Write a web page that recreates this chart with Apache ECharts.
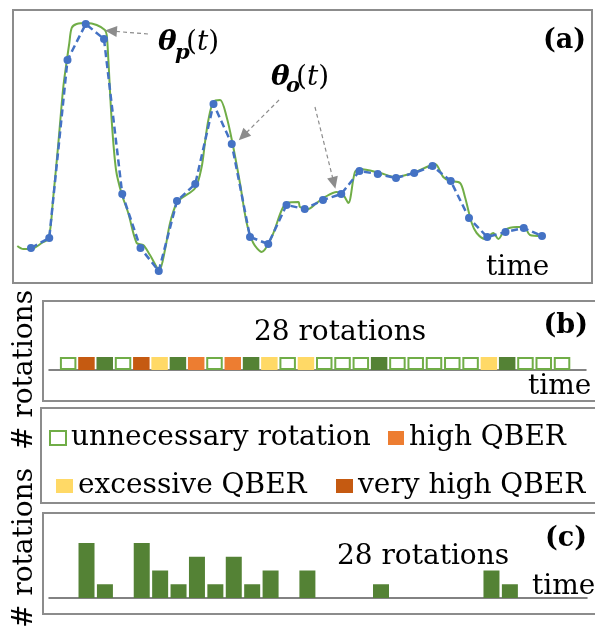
<!DOCTYPE html>
<html><head><meta charset="utf-8">
<script src="https://cdn.jsdelivr.net/npm/echarts@6/dist/echarts.min.js"></script>
<style>html,body{margin:0;padding:0;background:#fff}#c{width:595px;height:628px}</style>
</head><body><div id="c"></div>
<script>
// ---- Panel (a): sampled polarization angle theta_o(t) at rotation times
const sampleValues = [35,45,223,259,244,89,35,12,82,99,179,139,46,39,78,74,83,89,112,109,105,110,117,102,65,46,51,55,47];
// ---- Panel (a): continuous theta_p(t)
const pathT = [-0.75,-0.42,0,0.59,0.97,1.22,1.50,1.77,1.99,2.10,2.23,2.50,3.07,3.60,4.05,4.15,4.24,4.42,4.66,4.97,5.33,5.79,6.15,6.52,7.03,7.34,7.62,7.98,8.26,9.00,9.35,9.53,9.72,9.99,10.36,10.72,11.05,11.45,11.82,12.18,12.64,13.19,13.74,14.04,14.65,14.74,15.19,15.65,16.11,16.75,17.11,17.39,17.75,18.03,19.12,19.95,20.93,21.68,22.14,22.59,22.96,23.51,23.78,24.15,24.42,24.88,25.33,25.61,25.97,26.61,27.03,27.34,27.98];
const pathV = [37,34,34,40,45,86,140,196,226,240,255,259,260,258,253,248,223,163,113,89,70,40,38,28,13,33,60,80,85,95,116,140,163,181,183,166,139,100,60,40,31,46,73,80,81,76,74,80,86,91,88,80,111,114,110,106,110,116,119,106,102,100,86,60,50,44,50,44,53,56,56,48,47];
// ---- Panel (b): kind of each of the 28 rotations
// U unnecessary, H high QBER, E excessive QBER, V very high QBER, N necessary
const rotationKinds = ['U','V','N','U','V','E','N','H','U','H','N','E','U','E','U','U','U','N','U','U','U','U','U','E','N','U','U','U'];
const kindNames = {U:'unnecessary rotation', H:'high QBER', E:'excessive QBER', V:'very high QBER', N:'necessary rotation'};
// ---- Panel (c): rotations per time slot
const fixSlots  = [1,2,4,5,6,7,8,9,10,11,13,17,23,24];
const fixCounts = [4,1,4,2,1,3,1,3,1,2,2,1,2,1];
// ---- annotation arrows (t, value)
const arrowsA = [[[6.41,249],[4.38,252]], [[13.59,183],[11.62,147]], [[15.56,176],[16.60,100]]];

const SERIF = '"DejaVu Serif"';
const kindStyle = {
  U: {color:'#ffffff', borderColor:'#70AD47', borderWidth:2},
  H: {color:'#ED7D31'},
  E: {color:'#FFD966'},
  V: {color:'#C55A11'},
  N: {color:'#548235'}
};

const chart = echarts.init(document.getElementById('c'), null, {renderer:'canvas'});

const bSeries = ['U','H','E','V','N'].map(k => ({
  type:'bar', name: kindNames[k], xAxisIndex:1, yAxisIndex:1,
  barWidth: 16.5, barGap:'-100%',
  itemStyle: kindStyle[k],
  data: rotationKinds.map((kk,i)=> kk===k ? [i+0.5, 1] : null).filter(Boolean),
  silent:true
}));

const gray = '#8c8c8c';
function box(x,y,w,h){return {type:'rect', silent:true, z:10, shape:{x,y,width:w,height:h}, style:{fill:'none', stroke:gray, lineWidth:2}};}
function txt(x,y,text,font,align){return {type:'text', silent:true, z:20, x, y, style:{text, font, fill:'#000', align:align||'left', verticalAlign:'middle'}};}

const legendBase = {orient:'horizontal', padding:0, selectedMode:false, icon:'rect', itemHeight:14,
  textStyle:{fontFamily:SERIF, fontSize:28, color:'#000'}};

chart.setOption({
  animation:false,
  grid:[
    {left:13, top:10, width:579, height:273},
    {left:49, top:357, width:537, height:13},
    {left:49, top:529.25, width:538, height:68.75}
  ],
  xAxis:[
    {type:'value', gridIndex:0, min:-0.986, max:30.74, show:false},
    {type:'value', gridIndex:1, min:-0.547, max:28.81, axisLine:{show:true, onZero:true, lineStyle:{color:'#595959', width:1.5}}, axisTick:{show:false}, axisLabel:{show:false}, splitLine:{show:false}},
    {type:'value', gridIndex:2, min:-0.538, max:28.69, axisLine:{show:true, onZero:true, lineStyle:{color:'#595959', width:1.5}}, axisTick:{show:false}, axisLabel:{show:false}, splitLine:{show:false}}
  ],
  yAxis:[
    {type:'value', gridIndex:0, min:0, max:273, show:false},
    {type:'value', gridIndex:1, min:0, max:1, show:false},
    {type:'value', gridIndex:2, min:0, max:5, show:false}
  ],
  legend:[
    Object.assign({}, legendBase, {data:[kindNames.U], left:49, top:424, itemWidth:16}),
    Object.assign({}, legendBase, {data:[kindNames.H], left:388, top:424, itemWidth:16}),
    Object.assign({}, legendBase, {data:[kindNames.E], left:56, top:472, itemWidth:17}),
    Object.assign({}, legendBase, {data:[kindNames.V], left:336, top:472, itemWidth:17})
  ],
  series:[
    {type:'line', name:'theta_p', xAxisIndex:0, yAxisIndex:0, smooth:0.3, symbol:'none',
     lineStyle:{color:'#70AD47', width:2}, data: pathT.map((t,i)=>[t, pathV[i]]), silent:true, z:2},
    {type:'line', name:'theta_o', xAxisIndex:0, yAxisIndex:0, symbol:'circle', symbolSize:8,
     lineStyle:{color:'#4472C4', width:2.5, type:[7,4]}, itemStyle:{color:'#4472C4'},
     data: sampleValues.map((v,i)=>[i, v]), silent:true, z:3,
     markLine:{silent:true, symbol:['none','triangle'], symbolSize:[11,12], label:{show:false},
       lineStyle:{color:'#8c8c8c', width:1.2, type:[4,3]}, itemStyle:{color:'#8c8c8c'},
       data: arrowsA.map(a=>[{coord:a[0]},{coord:a[1]}])}},
    ...bSeries,
    {type:'bar', name:'rotations', xAxisIndex:2, yAxisIndex:2, barWidth:16, itemStyle:{color:'#548235'},
     data: fixSlots.map((s,i)=>[s+0.5, fixCounts[i]]), silent:true}
  ],
  graphic:[
    box(13,10,579,273),
    box(43,301,560,100),
    box(41,408,562,95),
    box(43,513,560,101),
    // panel (a) texts
    txt(158,43,'θ','bold italic 28px '+SERIF),
    txt(175,54,'p','bold italic 21px '+SERIF),
    {type:'text', silent:true, z:20, x:186, y:43, style:{text:'{n|(}{i|t}{n|)}', align:'left', verticalAlign:'middle',
      rich:{n:{fontFamily:SERIF, fontSize:28, fill:'#000'}, i:{fontFamily:SERIF, fontSize:28, fontStyle:'italic', fill:'#000'}}}},
    txt(271,78,'θ','bold italic 28px '+SERIF),
    txt(286,87,'o','bold italic 21px '+SERIF),
    {type:'text', silent:true, z:20, x:296, y:78, style:{text:'{n|(}{i|t}{n|)}', align:'left', verticalAlign:'middle',
      rich:{n:{fontFamily:SERIF, fontSize:28, fill:'#000'}, i:{fontFamily:SERIF, fontSize:28, fontStyle:'italic', fill:'#000'}}}},
    txt(586,41,'(a)','bold 27px '+SERIF,'right'),
    txt(486,268,'time','28px '+SERIF),
    // panel (b)
    txt(340,333,'28 rotations','28px '+SERIF,'center'),
    txt(588,326,'(b)','bold 27px '+SERIF,'right'),
    txt(528,387,'time','28px '+SERIF),
    // panel (c)
    txt(423,557,'28 rotations','28px '+SERIF,'center'),
    txt(587,539,'(c)','bold 27px '+SERIF,'right'),
    txt(532,587,'time','28px '+SERIF),
    // y labels
    {type:'text', silent:true, z:20, x:25, y:370, rotation:Math.PI/2, style:{text:'# rotations', font:'28px '+SERIF, fill:'#000', align:'center', verticalAlign:'middle'}},
    {type:'text', silent:true, z:20, x:25, y:548, rotation:Math.PI/2, style:{text:'# rotations', font:'28px '+SERIF, fill:'#000', align:'center', verticalAlign:'middle'}}
  ]
});
</script></body></html>
